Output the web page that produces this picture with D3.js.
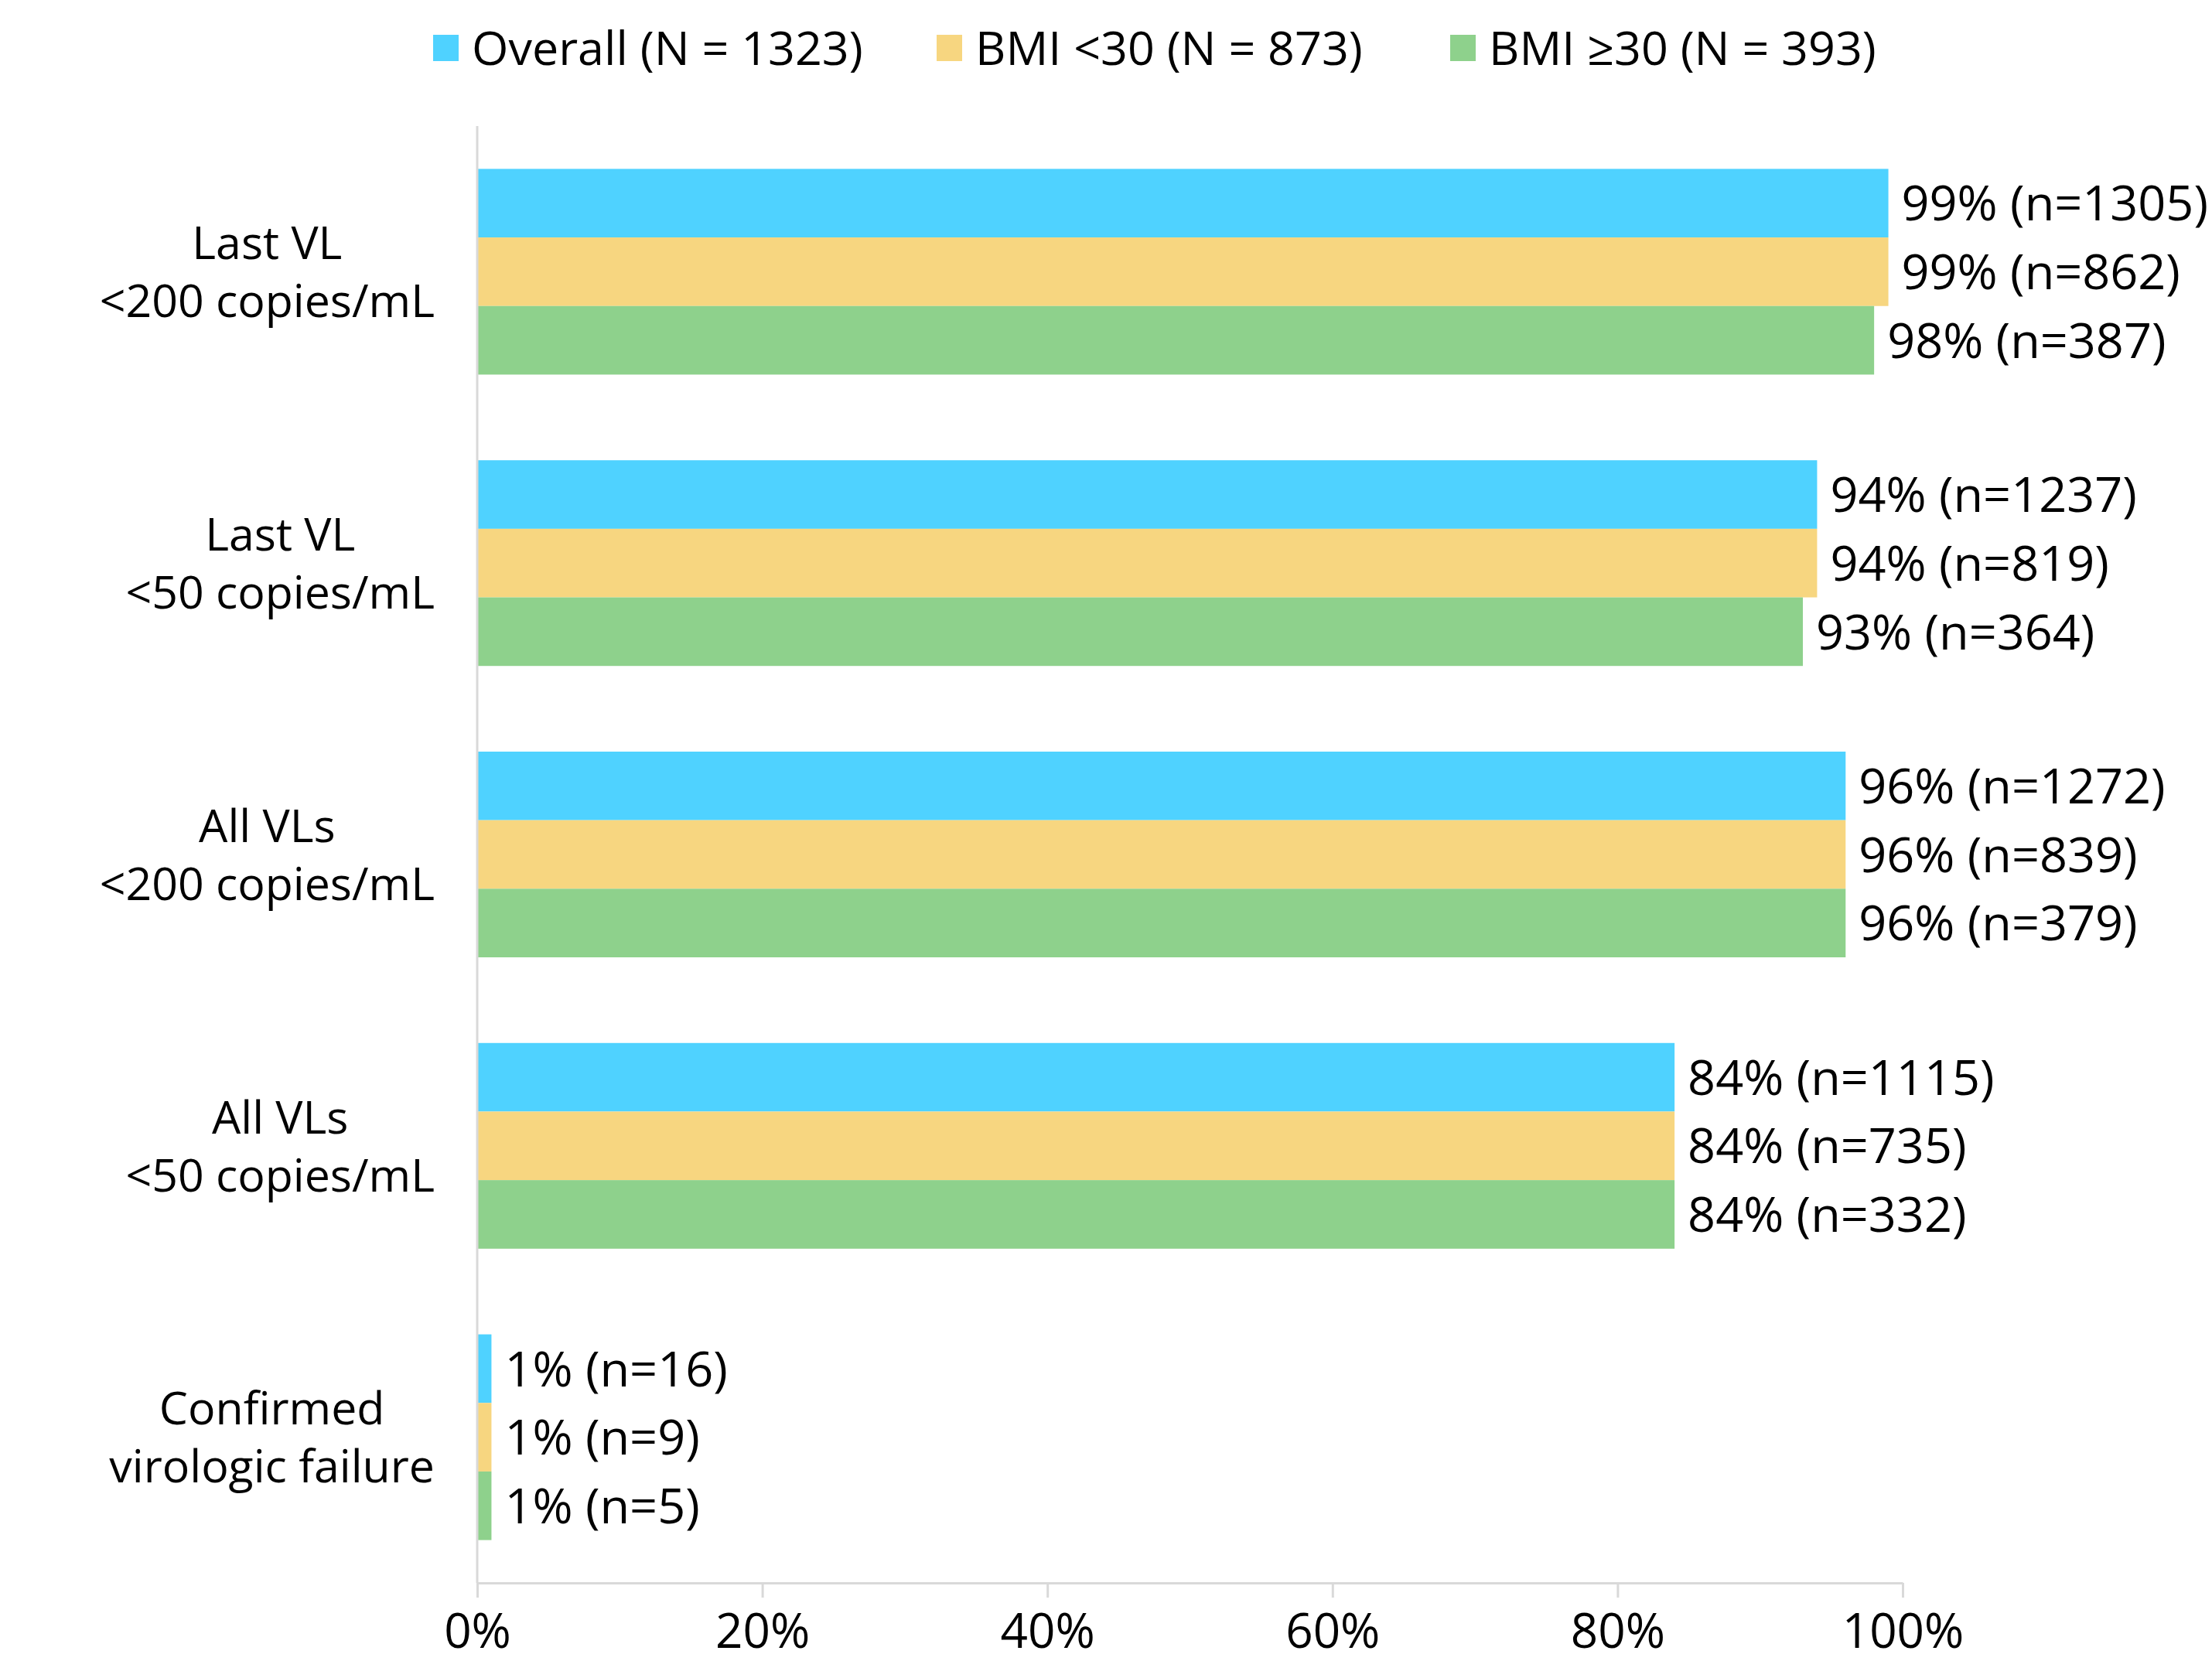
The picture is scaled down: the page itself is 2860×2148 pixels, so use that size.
<!DOCTYPE html>
<html>
<head>
    <meta charset='utf-8'>
    <title>Virologic outcomes by BMI</title>
    <script src='https://d3js.org/d3.v7.min.js'></script>
    <style>
        body { margin: 0; background: #fff; }
        text { font-family: 'Open Sans', 'Noto Sans', sans-serif; fill: #000; }
    </style>
</head>
<body>
<div id='chart'></div>
<script type='text/javascript'>
    // categories (each label split in two lines)
    const categories = [
        ['Last VL', '<200 copies/mL'],
        ['Last VL', '<50 copies/mL'],
        ['All VLs', '<200 copies/mL'],
        ['All VLs', '<50 copies/mL'],
        ['Confirmed', 'virologic failure']
    ];
    const seriesNames = ['Overall (N = 1323)', 'BMI <30 (N = 873)', 'BMI \u226530 (N = 393)'];
    const seriesColors = ['#4fd2ff', '#f7d680', '#8ed18c'];

    // percentages and counts per series
    const overallPct = [99, 94, 96, 84, 1];
    const overallN   = [1305, 1237, 1272, 1115, 16];
    const bmiLowPct  = [99, 94, 96, 84, 1];
    const bmiLowN    = [862, 819, 839, 735, 9];
    const bmiHighPct = [98, 93, 96, 84, 1];
    const bmiHighN   = [387, 364, 379, 332, 5];

    const xTicks = [0, 20, 40, 60, 80, 100];

    const pcts = [overallPct, bmiLowPct, bmiHighPct];
    const counts = [overallN, bmiLowN, bmiHighN];

    const W = 2860, H = 2148;
    const margin = {top: 163, right: 400, bottom: 101, left: 617};
    const w = W - margin.left - margin.right;
    const h = H - margin.top - margin.bottom;

    const svg = d3.select('#chart')
        .append('svg')
            .attr('width', W)
            .attr('height', H);

    const g = svg.append('g')
        .attr('transform', `translate(${margin.left},${margin.top})`);

    const xScale = d3.scaleLinear().domain([0, 100]).range([0, 1843]);
    const yScale = d3.scaleBand()
        .domain(d3.range(categories.length))
        .range([0, h])
        .paddingInner(0.294)
        .paddingOuter(0.147);
    const ySub = d3.scaleBand()
        .domain(d3.range(seriesNames.length))
        .range([0, yScale.bandwidth()]);

    // flatten into rows for drawing
    let rows = [];
    categories.forEach((c, i) => {
        seriesNames.forEach((s, j) => {
            rows.push({cat: i, ser: j, pct: pcts[j][i], n: counts[j][i]});
        });
    });

    // bars
    g.selectAll('rect.bar')
        .data(rows)
        .enter()
        .append('rect')
            .attr('class', 'bar')
            .attr('x', 0)
            .attr('y', (d) => yScale(d.cat) + ySub(d.ser))
            .attr('width', (d) => xScale(d.pct))
            .attr('height', ySub.bandwidth())
            .attr('fill', (d) => seriesColors[d.ser]);

    // value labels
    g.selectAll('text.val')
        .data(rows)
        .enter()
        .append('text')
            .attr('class', 'val')
            .attr('x', (d) => xScale(d.pct) + 17)
            .attr('y', (d) => yScale(d.cat) + ySub(d.ser) + ySub.bandwidth() / 2)
            .attr('dy', '0.36em')
            .attr('font-size', '63px')
            .text((d) => `${d.pct}% (n=${d.n})`);

    // x axis
    const xAxis = d3.axisBottom(xScale)
        .tickValues(xTicks)
        .tickSize(19)
        .tickSizeOuter(0)
        .tickFormat((d) => d + '%');

    const gx = g.append('g')
        .attr('class', 'x axis')
        .attr('transform', `translate(0,${h})`)
        .call(xAxis);
    gx.select('.domain').attr('stroke', '#d9d9d9').attr('stroke-width', 3);
    gx.selectAll('.tick line').attr('stroke', '#d9d9d9').attr('stroke-width', 3);
    gx.selectAll('.tick text')
        .attr('y', 62)
        .attr('dy', '0.36em')
        .attr('font-size', '62px')
        .attr('font-family', "'Open Sans', 'Noto Sans', sans-serif")
        .attr('fill', '#000');

    // y axis line
    g.append('line')
        .attr('x1', 0).attr('x2', 0)
        .attr('y1', 0).attr('y2', h)
        .attr('stroke', '#d9d9d9')
        .attr('stroke-width', 3);

    // category labels, one text per line, lines centered, block right aligned
    const labelRight = 562 - margin.left;
    categories.forEach((lines, i) => {
        const cy = yScale(i) + yScale.bandwidth() / 2;
        const texts = lines.map((l, k) => g.append('text')
            .attr('class', 'cat')
            .attr('font-size', '59px')
            .attr('text-anchor', 'middle')
            .attr('y', cy + (k - (lines.length - 1) / 2) * 75)
            .attr('dy', '0.36em')
            .text(l));
        const maxW = d3.max(texts, (t) => t.node().getComputedTextLength());
        texts.forEach((t) => t.attr('x', labelRight - maxW / 2));
    });

    // legend
    const legendX = [560, 1211, 1875];
    const leg = svg.append('g').attr('class', 'legend');
    seriesNames.forEach((s, j) => {
        leg.append('rect')
            .attr('x', legendX[j])
            .attr('y', 45)
            .attr('width', 33)
            .attr('height', 34)
            .attr('fill', seriesColors[j]);
        leg.append('text')
            .attr('x', legendX[j] + 50)
            .attr('y', 62)
            .attr('dy', '0.36em')
            .attr('font-size', '61px')
            .text(s);
    });
</script>
</body>
</html>
